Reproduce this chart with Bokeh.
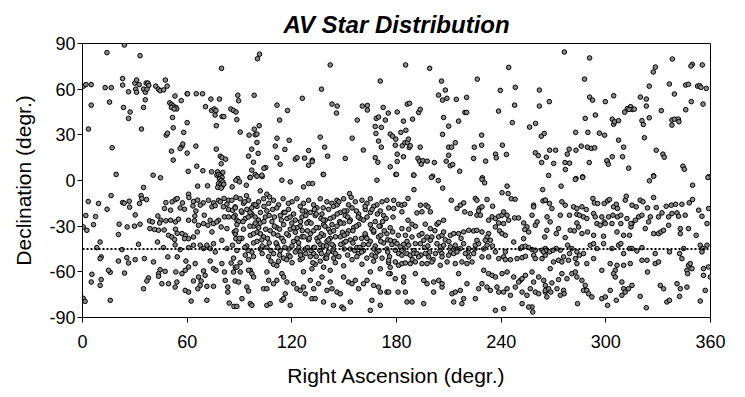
from bokeh.plotting import figure
from bokeh.models import Span, FixedTicker
from bokeh.embed import file_html
from bokeh.resources import INLINE

title_text = "AV Star Distribution"
x_label = "Right Ascension (degr.)"
y_label = "Declination (degr.)"
ra_ticks = [0, 60, 120, 180, 240, 300, 360]
dec_ticks = [-90, -60, -30, 0, 30, 60, 90]
mean_dec = -45

# (right ascension, declination) pairs
north_w = [(24,89),(14,84),(33,82),(0.5,62),(2,63),(5,63),(13,61),(16.5,61),(23,67),(23,62.7),(26.4,58.3),(30,64),(31,66),(32.5,63),(30.5,60),(31,58),(35,60),(36,58),(36.5,64),(37.5,64),(38,62.5),(37,60),(42,62),(43.5,60),(44.5,59),(46.5,59.5),(47.5,66),(48.5,62),(53,55.5),(56.6,52.5),(60,57),(50,51),(51,50),(52,49),(53.5,48),(54,47),(51,48),(52.5,47),(5,49.5),(15.5,51.5),(23.5,48),(27.3,45),(26.4,40.8),(36,53),(35,48),(51.6,41.4),(60,38),(3.4,33.8),(33.8,33.8),(48,29.8),(48.7,31),(52,34.6),(58,31.6),(57,22.5),(56,21),(57.5,24),(17,21.5),(51,19.3),(52,13.4),(60,18),(60.6,6),(19.3,4),(40.5,3.5),(44.7,1.8)]

north_b = [(101.5,83),(100.3,80),(79.7,73.7),(60.2,57),(65.2,57),(68.8,57),(73.6,53.5),(78.5,53.5),(89,56),(89.5,52.4),(98.4,56),(70.5,48.5),(74,46),(75.5,47),(76.5,46),(76,43),(80,42),(81,42),(85,47),(86.5,46),(88,45),(88.5,40),(111.5,49.5),(117.5,46),(113,39.7),(101.3,36),(76.7,36),(98.5,33.7),(99,30),(100,30.5),(95.5,29.8),(90.4,31.8),(100,25),(111.5,27.8),(110.5,22.6),(116,20.4),(118.5,26.4),(65,22.6),(76.7,20.6),(79,16),(80,15),(82,14),(79.5,11),(95.2,16),(97,20.6),(100.7,17.8),(98,12),(105,8.5),(104,8),(111.4,15),(113.3,10.7),(65.5,9.4),(69,6.4),(74,5.7),(77.4,5.7),(80.4,5.3),(79,3.5),(77,3.5),(97,6.8),(99,4),(103,2.6),(96,2),(89,1.3)]

north_c = [(142,75.9),(170.7,65.3),(137,60),(126,54),(143,50.2),(146,48.9),(145.6,44.3),(160.4,48.9),(163.3,49.3),(163.3,46.3),(157.5,39.7),(172.4,48),(175.3,44.3),(180.4,45),(173.6,39.7),(168.4,40.8),(169.7,41.7),(167.8,35.5),(171.3,34.9),(168.2,30.9),(169.7,25.9),(171.3,21.9),(176.4,30.5),(177.8,29.1),(179.6,27.2),(179.3,23.2),(180.4,17.3),(154.6,27.8),(136.3,28.5),(138.8,21.9),(140.5,16),(129.6,19.7),(161,20),(122,14),(123,15),(127.3,14.7),(131.7,13.4),(131.7,12.5),(129.6,10),(150.6,14.5),(167.8,15),(169.3,12),(176.4,9),(180.4,12.5),(138,4),(179.6,4)]

north_d = [(185.2,75.9),(199,73.7),(205.8,65.3),(226.3,66.6),(239.5,59.2),(208,59.4),(204.1,56.1),(206.4,52.8),(208.9,54),(214.3,53.3),(220.2,54.6),(186.2,50.2),(187.5,50.7),(192.7,44.7),(193.6,46.7),(219.2,44.7),(220.2,44.7),(238.5,45.6),(207,41.4),(215.6,39),(209.9,35.7),(184,39),(189.2,40.3),(185.4,33),(182.5,31.6),(206.4,30.3),(213.7,24.8),(228.8,29.8),(228.8,23.2),(224.6,21.9),(183.3,22.8),(184.8,24.8),(186.2,25),(186.8,27.2),(187.3,21.7),(187.9,22.8),(193.6,21.9),(209.9,21.9),(211.6,21.9),(209.9,16.6),(236.8,17.3),(237.2,14.9),(231.1,12.7),(240.7,23.2),(184,15.6),(192.3,14.5),(193.2,12.7),(195.1,13),(197.6,12.7),(201.7,11.8),(194.2,10.7),(208.5,12.7),(210.8,9.7),(212.2,10.5),(216.2,6.1),(224.2,14.5),(189.8,3.5),(200.7,2.8),(229.2,1.8)]

north_e = [(276.2,84.4),(290.7,80.5),(244.3,74.3),(287.8,66.6),(248.1,61.2),(261.9,59.4),(267.6,51.8),(261.9,48.9),(247.7,49.5),(290.7,54.8),(292.4,52.8),(299.7,51.8),(246.4,38),(256.3,35.1),(259.7,37.5),(263,29.1),(264.7,30.9),(288.2,40.8),(294,43),(282.7,31.6),(289.7,31.6),(296.3,31.1),(299.3,29.8),(243,17.1),(259.6,18.2),(261.3,16.4),(265.9,15.3),(267.8,19.9),(271.2,19.9),(263.2,11.8),(270.1,11.2),(276.6,11.8),(279.2,11.4),(276.8,7.2),(277.9,17.3),(279,20.6),(282.9,19.9),(285.9,22.6),(289.4,21.9),(291.7,21.1),(293.6,21.5),(290.5,11.8),(300.8,12.7),(267.2,3.3),(282.9,1.3),(286.7,2.4)]

north_f = [(338.1,79.8),(349.6,76.3),(348.8,75.2),(355.3,75.9),(328.4,74.5),(327.2,71.3),(324.9,62),(336.4,63.4),(339.3,56.8),(345.8,62.7),(347.3,63.2),(352.6,62),(353.8,62.3),(354.5,61.2),(357.6,60.5),(349,51.8),(355.7,50.2),(345.8,46.5),(304.5,55.7),(319.8,54.8),(323.2,53.5),(323.2,48.9),(310.8,44.9),(312.3,47.2),(314.2,48.5),(315.2,46.7),(316.3,46.9),(313.3,46.7),(331.8,45.9),(303.7,40.3),(304.5,37),(305,38.6),(307.3,39.3),(320.7,39.3),(321.5,36.8),(324.9,41.2),(337.9,39.7),(339.3,40.3),(341.6,40.3),(341.9,38.6),(337.9,36.4),(307.3,26.5),(310.2,21.9),(322.1,28.1),(328.9,19.9),(332.7,17.3),(333.5,15.3),(303.7,15.6),(309.6,15.6),(300.6,13),(301.4,10.7),(313.1,8.1),(344.2,9.4),(345,7.4),(327.4,3.1),(359,2.4)]

equator = [(78,4),(79,3),(80,2),(78.5,1),(79.5,0),(80.5,-1),(78,-2),(79,-3),(80,-4),(81,-2.5),(77.5,-4.5),(79.5,-5),(87.9,0.2),(85.8,-4.2),(66,-3.7),(71.7,-3.5),(35,-4.6),
(90,-0.9),(93.9,-3.1),(96.2,2),(100,2.8),(102.8,3.5),(114.3,0.2),(119.1,-0.9),(126.7,-4.2),(129.6,-2),(131.9,-2),(138.2,3.9),(153.1,-8.6),(168.8,0.2),(101.9,-6.8),(105.7,-9),(107.2,-10.8),
(180,4),(190,3.5),(200,2),(204,0),(206.5,-5),(190,-6),(229,0.7),(230.5,-1.5),(240.5,-8),(243.4,-3.7),(244,-8.6),(245.8,-12),(248,-12.3),(263.8,-6),(264,-13.4),(265.3,-13),(178.4,-13),(211.4,-13),
(282.5,0.7),(286.7,2),(325,-0.2),(327.4,2.8),(358.5,2),(274.4,-3.7),(349.7,-3.1)]

band_w = [(16.4,-9.9),(3.3,-13.8),(9.2,-15.1),(23,-14.5),(23.9,-14.9),(26.8,-13.6),(27,-17.5),(33.6,-9.9),(34,-11.9),(36.7,-12.5),(32.7,-15.1),
(14.1,-18.9),(30.2,-22.6),(21,-28.7),(20.6,-35.5),(25.6,-30.5),(29.8,-30),(33,-28.7),
(1.9,-23),(7.5,-23.7),(6.3,-29),(0.4,-30.5),(2.5,-32.7),
(38.4,-26.5),(40.1,-27.2),(43.2,-23.3),(44.9,-26.1),(44.2,-27.9),
(47.8,-14.5),(47,-18.4),(50.5,-19.5),(47.8,-26.5),(50.5,-26.1),(53.3,-27.2),(55,-25.4),
(38.6,-31.6),(41.3,-32.2),(43.6,-32.7),(46.8,-32.5),(49.3,-36),(51.2,-37.1),(54.3,-34.7),(53.3,-32),(52.8,-38.8),
(51.4,-14),(53.3,-12.5),(54.3,-11.9),(57.3,-14.7),(56,-18),(58.5,-18.9),(60.8,-9),(61,-11.2),(63.6,-13.8),(63.3,-16.7),
(66,-12.9),(65,-20),(69.2,-14.7),(69.8,-22.8),(67.5,-16.2),(64.4,-23.3),
(72.2,-13),(75.1,-14.7),(74.2,-17.3),(76.1,-16.5),(78,-13),(79,-14),(81.2,-11.8),(83.7,-13),(85.6,-13),(82.8,-15.6),(80.8,-17.3),(83.7,-19.1),(86,-19.5),(87.5,-17.3),(81.4,-23.9),(78,-26.1),(83.7,-23.9),(87.5,-22.8),(88.5,-26.1),
(60.8,-26.1),(64.2,-26.5),(66.5,-29.4),(69.4,-28.3),(71.9,-29.4),(73.2,-26.1),(75.1,-28.3),(77,-27.2),(79.5,-30.5),(82.8,-31.6),(87,-33.8),(87.9,-38.2),(74.2,-33.8),(65.8,-33.8),(58.9,-36),(60.8,-38.2),(63.6,-37.1),(57,-34.9),
(8.2,-44.1),(10.1,-40.4),(32.1,-41.9),(43,-40.4),(46.4,-44.1),(53.1,-42.3),(56,-45.4),(58.5,-38.2),(60.8,-44.1),(63.6,-42.5),(67.5,-42.5),(69.4,-44.7),(71.3,-42.5),(73.2,-44.7),(75.1,-41.5),(76.1,-46.9),(79.9,-39.3),(82.8,-44.7),(86,-42.5)]

south_w = [(10.7,-50.2),(10.1,-51.3),(22.6,-45.4),(25.4,-50.7),(20.6,-52.9),(26.4,-54.2),(30.2,-52),(35.5,-51.3),(40.7,-53.5),(44.5,-58.6),(47.4,-59.7),(43.6,-61.2),(37.8,-64),(36.9,-66),(35,-71.1),(24.1,-60.8),(15.9,-60.3),(14.9,-59),(5.4,-61.6),(5,-66.7),(10.7,-65.1),(10.1,-68.9),(15.9,-78.7),(0.4,-77.4),(1.5,-79.4),(48.9,-50.2),(54.3,-50.2),(59.3,-52.9),(60.8,-56.8),(64.6,-54.6),(58.9,-59),(53.5,-60.1),(54.1,-66.7),(57,-61.2),(53.1,-70),(49.3,-67.8),(43.6,-62.9),(45.5,-67.8),(63.6,-66),(66.5,-63.4),(68,-66),(67.5,-68.9),(69.4,-59.4),(70.3,-62.3),(73.2,-52.9),(75.1,-57.9),(76.5,-59),(79.9,-54.6),(81.4,-60.1),(85.2,-54.2),(86.6,-60.1),(81.8,-65.6),(87.5,-66),(83.3,-70),(83.3,-73.3),(75.1,-69.5),(71.3,-69.5),(66.1,-71.1),(60.8,-73.3),(58.9,-72.2),(62.3,-79.2),(71.3,-78.7),(84.1,-80.5),(86.8,-82.7)]

band_b = [(90.4,-12),(92.3,-15),(95.2,-13),(98.1,-16),(100.9,-14),(103.8,-12),(106.7,-15),(109.5,-13),(112.4,-16),(120.1,-14),(122.9,-12),(126.7,-15),(129.6,-13),(132.5,-16),(136.3,-12),(140.1,-14),(143,-15),(145.9,-13),(149.7,-12),(152.5,-16),(156.4,-14),(160.2,-13),(163.1,-15),(165,-12),(168.8,-16),(171.7,-14),(174.5,-13),
(87.6,-18),(91.4,-21),(94.2,-19),(97.1,-22),(100,-17),(105.7,-20),(111.4,-18),(115.3,-21),(118.1,-19),(121,-22),(124.8,-17),(127.7,-20),(130.6,-21),(134.4,-18),(137.3,-22),(141.1,-19),(143.9,-17),(147.8,-21),(151.6,-20),(154.5,-18),(158.3,-22),(162.1,-19),(165,-21),(166.9,-17),(170.7,-20),(175.5,-18),
(86.6,-24),(89.5,-27),(93.3,-25),(96.2,-23),(100.9,-26),(104.8,-24),(108.6,-27),(113.4,-23),(117.2,-25),(122,-26),(125.8,-24),(129.6,-27),(133.4,-23),(136.7,-25),(139.2,-26),(143.9,-24),(147.4,-27),(150.6,-23),(153.5,-26),(159.2,-25),(163.1,-24),(167.8,-27),(172.6,-23),
(88.5,-29),(92.3,-32),(98.1,-30),(101.9,-28),(107.6,-33),(111.4,-31),(115.3,-29),(119.1,-32),(124.8,-30),(128.6,-28),(132.5,-33),(135.3,-31),(138.2,-29),(141.1,-32),(145.9,-30),(149.7,-28),(152.5,-33),(155.4,-31),(158.3,-29),(165.9,-32),(170.7,-30),(176.4,-31),
(87.6,-35),(91.4,-38),(96.2,-36),(100,-34),(103.8,-37),(109.5,-35),(114.3,-38),(118.1,-36),(122,-34),(125.8,-37),(130.6,-35),(134.4,-38),(138.2,-36),(142,-34),(147.8,-37),(151.6,-35),(156.4,-38),(162.1,-36),(166.9,-34),(169.7,-37),(174.5,-35),
(89.5,-40),(94.2,-43),(98.1,-41),(102.8,-39),(105.7,-44),(111.4,-42),(115.3,-40),(120.1,-43),(123.9,-41),(129.6,-39),(132.5,-44),(136.3,-42),(140.1,-40),(143.9,-43),(149.7,-41),(153.5,-39),(157.3,-44),(161.1,-42),(165,-40),(167.8,-43),(172.6,-41),(177.4,-42),
(88.5,-46),(93.3,-49),(97.1,-47),(101.9,-45),(109.5,-48),(113.4,-46),(118.1,-49),(124.8,-47),(127.7,-45),(132.5,-48),(136.3,-46),(140.1,-49),(143.9,-47),(153.5,-45),(158.3,-48),(161.1,-46),(165.9,-49),(168.8,-47),(174.5,-45),
(86.6,-51),(90.4,-54),(95.2,-52),(106.7,-50),(109.5,-55),(112.4,-53),(115.3,-51),(120.1,-54),(124.8,-52),(130.6,-50),(133.4,-55),(136.3,-53),(139.2,-51),(144.9,-54),(154.5,-52),(157.3,-50),(160.2,-55),(166.9,-53),(171.7,-51),(175.5,-54),
(87.6,-57),(96.2,-59),(111.4,-56),(126.7,-60),(131.5,-58),(138.2,-57),(142,-59),(149.7,-56),(165,-60),(170.7,-58),(176.4,-57)]

band_b2 = [(88,-11),(94,-10),(97,-18),(99,-24),(102,-21),(104,-27),(107,-23),(110,-30),(112,-36),(114,-26),(116,-21),(118,-45),(121,-40),(123,-31),(125,-27),(127,-37),(129,-33),(131,-28),(133,-44),(135,-40),(137,-35),(139,-30),(141,-47),(142,-38),(144,-33),(146,-22),(148,-28),(150,-45),(88,-33),(90,-38),(92,-27),(93,-44),(96,-30),(98,-35),(100,-40),(103,-43),(105,-32),(106,-38),(108,-46),(111,-41),(113,-49),(117,-35),(119,-50),(122,-47),(124,-44),(126,-51),(128,-48),(130,-38),(132,-54),(134,-31),(136,-46),(138,-43),(140,-51),(143,-42),(145,-37),(147,-50),(149,-34),(151,-40),(153,-27),(155,-33),(157,-20),(159,-44),(161,-26),(163,-38),(165,-29),(167,-45),(169,-22),(171,-40),(173,-33),(175,-47),(91,-20),(95,-24),(99,-16),(101,-31),(109,-19),(115,-12),(119,-24),(126,-20),(134,-22),(138,-18),(142,-25),(146,-16),(150,-20),(154,-11),(158,-24),(162,-35),(166,-19),(170,-30),(174,-25)]

band_b3 = [(93,-14),(96,-21),(99,-28),(102,-35),(104,-17),(107,-41),(110,-24),(113,-32),(116,-44),(118,-15),(120,-28),(123,-38),(126,-33),(128,-23),(131,-46),(133,-19),(136,-37),(138,-26),(140,-43),(143,-29),(145,-48),(147,-14),(150,-36),(152,-24),(155,-41),(157,-30),(160,-47),(162,-17),(164,-42),(167,-33),(170,-46),(172,-27),(175,-39),(178,-24),(181,-36),(184,-45),(187,-32),(190,-46),(193,-36),(196,-44),(199,-47),(202,-33),(205,-46),(208,-39),(211,-47),(95,-46),(98,-50),(103,-48),(108,-53),(112,-44),(117,-52),(121,-31),(125,-49),(129,-44),(134,-50),(137,-48),(141,-39),(144,-51),(148,-42),(152,-49),(156,-46),(160,-38),(163,-51),(168,-50),(171,-36),(176,-50),(179,-40),(183,-46),(186,-40),(189,-52),(194,-49),(198,-43),(201,-52),(206,-48),(210,-40),(214,-45),(217,-38),(221,-47),(225,-45),(230,-45),(235,-43)]

south_b = [(88.5,-56.8),(90.4,-60.1),(95.2,-59),(97.1,-61.2),(98.1,-63.4),(105.7,-60.1),(114.3,-61.2),(115.3,-63.4),(89.5,-66.7),(94.2,-70),(95.2,-72.6),(103.8,-71.1),(105.7,-71.1),(106.7,-65.6),(109.5,-67.8),(111.4,-65.6),(117.2,-66.7),(116.2,-74.4),(121,-67.8),(122.9,-71.1),(124.8,-72.2),(126.7,-70),(127.7,-74.4),(130.6,-65.6),(132.5,-71.1),(135.3,-67.8),(137.3,-63.4),(140.1,-72.2),(142,-66.7),(143,-71.1),(145.9,-73.3),(147.8,-74.4),(149.7,-63.4),(152.5,-66.7),(154.5,-67.8),(156.4,-65.6),(158.3,-71.1),(161.1,-67.8),(163.1,-65.6),(166.9,-68.9),(169.7,-70),(170.7,-73.3),(174.5,-73.3),(176.4,-61.2),(91.4,-77.6),(96.2,-80.9),(97.1,-82),(105.7,-82),(107.6,-80.9),(114.3,-78.7),(115.3,-77.6),(119.1,-82),(131.5,-77.6),(133.4,-77.6),(138.2,-79.8),(143.9,-82),(148.7,-83.1),(149.7,-84.2),(153.5,-79.8),(165,-85.3),(165.9,-78.7),(170.7,-82),(88.5,-82.7)]

band_c = [(181.2,-15.6),(183.1,-16.2),(184.7,-15.6),(186.6,-11.8),(193.7,-16.2),(196.9,-16.2),(198.1,-17.3),(194.6,-20.6),(191.7,-21.3),(199.4,-20.6),(183.1,-20.6),(178.4,-18.4),(214.7,-18.4),(216.6,-16.2),(218.5,-14.7),(219.1,-20.6),(225.2,-11.8),(226.1,-12.9),(227.5,-18.4),(229,-17.3),(231.9,-12.5),(235.1,-16.9),(227.1,-20),(222.3,-21.7),(226.1,-22.8),(228.1,-22.8),(232.8,-26.1),(234.8,-23.9),(236.7,-25),(238.6,-23.5),(240.5,-22.8),(241.4,-20.6),(243.4,-22.8),(244.3,-26.1),(241.4,-28.3),(238.6,-27.9),(236.7,-30.5),(239.1,-33.1),(240.5,-34.9),(247.7,-24.6),(250,-24.6),(252.9,-27.9),(254.8,-30.5),(253.5,-32.2),(255.8,-33.8),(259.6,-29.4),(260.6,-27.2),(257.7,-22.8),(258.6,-16.2),(258.6,-17.3),(265,-37.1),(266.3,-23.9),
(186.6,-26.1),(188.9,-28.7),(190.8,-30.1),(196.5,-28.7),(199.4,-31.6),(203.2,-28.7),(204.2,-27.6),(207,-26.1),(183.1,-31.6),(177.8,-33.8),(185.1,-36),(188.9,-37.1),(194.6,-34.9),(197.5,-37.1),(200.3,-37.1),(204.2,-37.1),(206.1,-36),(207,-33.8),(210.9,-36),(212.8,-34.9),(215.6,-34.9),(218.5,-33.8),(221.4,-32.7),(224.2,-33.1),(226.1,-32.7),(229,-33.8),(232.8,-34.9),(231.9,-37.1),(230.9,-39.3),(233.8,-39.3),(242.4,-36),(247.2,-40.4),(252.9,-38.2),(176.5,-39.3),(180.3,-41.5),(182.2,-43.6),(184.1,-41.9),(187,-42.5),(190.8,-41.5),(193.7,-41.5),(195.6,-39.3),(199.4,-39.3),(203.2,-41.5),(205.1,-43.6),(207,-42.5),(210.9,-43.6),(213.7,-42.5),(216.6,-44.7),(218.5,-41.5),(221.4,-44.7),(225.2,-42.5),(227.1,-41.5),(226.1,-39.3),(231.9,-42.5),(236.7,-46.9),(242.4,-46.9),(251,-44.7),(252,-43.6),(253.9,-43.2),(255.8,-44.1),(257.7,-45.4),(259.6,-45.8),(263.4,-45.8),(265.3,-44.7),
(179.3,-45.8),(181.2,-48),(183.1,-49.1),(186,-48),(187.9,-49.1),(189.8,-48),(191.7,-48),(192.7,-50.2),(196.5,-48),(198.4,-50.2),(202.3,-48),(206.1,-50.2),(209.9,-49.1),(212.8,-48),(214.7,-46.9),(219.5,-48),(221.4,-50.2),(224.2,-48),(229,-50.2),(232.8,-50.2),(238.6,-51.3),(241.4,-50.2),(242.4,-52),(245.3,-52),(249.1,-51.3),(252,-50.7),(253.9,-49.8),(258.6,-49.1),(259.6,-51.3),(263.4,-51.3),(265.3,-49.1)]

south_c = [(175.5,-52.4),(179.3,-53.5),(181.2,-55.7),(183.1,-54.6),(185.1,-54.2),(187.9,-54.6),(190.8,-53.5),(194.6,-54.6),(197.5,-54.6),(200.3,-53.5),(205.1,-55.7),(209,-53.5),(213.7,-54.6),(217.5,-53.5),(220.4,-54.6),(223.3,-53.5),(230,-59),(232.8,-61.2),(234.8,-62.3),(236.7,-63.4),(240.5,-61.2),(243.4,-60.1),(247.2,-63.4),(251,-65.6),(252,-64.5),(253.9,-62.3),(257.7,-60.1),(258.6,-66.7),(261.5,-63.4),(264.4,-65.6),(265.3,-68.9),
(175.5,-61.2),(179.3,-64.5),(184.1,-63.4),(184.1,-66.7),(190.8,-61.2),(195.6,-65.6),(197.5,-67.8),(201.3,-66.7),(204.2,-65.6),(206.1,-70),(211.8,-74.4),(213.7,-73.3),(215.6,-61.2),(216.6,-72.2),(218.5,-77.6),(220.4,-67.8),(225.2,-77.6),(227.1,-71.1),(229,-67.8),(231.9,-70),(233.8,-72.2),(237.6,-70),(238.6,-73.3),(241.4,-73.3),(243.4,-71.1),(245.3,-75.4),(248.1,-70),(250,-66.7),(252,-73.3),(254.8,-75.4),(256.7,-71.1),(257.7,-83.1),(259.6,-73.3),(261.5,-74.4),(265.3,-73.3),(180.9,-73.3),(185.1,-73.3),(186,-79.8),(188.9,-79.8),(195.6,-80.9),(201.3,-73.3),(206.1,-67.8),(212.8,-79.8),(217.5,-80.9),(236.7,-85.3),(241.4,-84.2),(252,-80.9),(255.8,-83.1),(258.1,-86.4),(175.5,-73.3)]

band_e = [(265.3,-12.9),(267.7,-15.1),(269.1,-18.4),(274.8,-14),(276.7,-16.2),(281.5,-17.3),(283.4,-18.4),(286.3,-17.3),(288.8,-19.1),(292.6,-11.8),(293.4,-14.7),(295.3,-15.1),(299.1,-15.1),(301,-13.4),(302.1,-12.5),(304.4,-17.3),(306,-15.6),(306.7,-18.4),(311.1,-12.9),(311.7,-10.3),(315,-16.2),(317.4,-17.3),(319.7,-12.9),(321.3,-14),(323.9,-18),(327.4,-11.2),(328.9,-17.8),(334.6,-16.9),(337.5,-16.2),(340,-15.6),(343.6,-15.6),(347.8,-14.7),(349.7,-12.5),(353.2,-19.5),(358.9,-18.4),
(273.9,-22.8),(279.2,-22.8),(283.4,-22.2),(284.9,-22.8),(287.2,-23.9),(289.1,-25),(293,-21.7),(293.9,-23.9),(297.7,-23.9),(301.6,-23.9),(304.1,-22.8),(306.7,-23.9),(308.6,-22.8),(312.1,-25),(315,-28.3),(318.8,-23.9),(320.7,-22.8),(325.5,-23.9),(330.2,-23.9),(332.2,-21.3),(336,-23.9),(337.9,-21.7),(340.8,-21.3),(341.7,-23.5),(345.5,-22.8),(355.1,-23.5),(358,-28.3),
(266.2,-32.7),(268.1,-27.2),(272.9,-31.6),(271.6,-34.9),(276.7,-37.5),(279.6,-32.7),(281.9,-33.1),(283.4,-27.9),(284.4,-30.5),(286.3,-34.9),(289.5,-33.8),(293,-36),(294.9,-28.3),(296.8,-29.4),(299.1,-27.2),(299.7,-28.3),(298.7,-36.6),(303.5,-28.3),(306.4,-33.8),(308.6,-28.3),(310.2,-36),(313.6,-36),(314.4,-30.5),(314.4,-28.3),(316.9,-26.1),(322.6,-31.6),(324.5,-27.2),(327.4,-34.9),(330.2,-34.9),(331.6,-33.8),(333.1,-32.7),(336,-29.4),(342.7,-31.6),(342.7,-34.9),(347.4,-31.6),(351.8,-36),(354.1,-42.5),(358,-42.5),
(264.3,-46.9),(266.2,-45.8),(267.7,-46.9),(269.7,-45.8),(271.6,-44.7),(273.9,-45.8),(275.8,-50.2),(278.1,-42.5),(279.2,-48),(280.5,-44.7),(283.4,-46.9),(284.9,-49.1),(287.2,-48),(291.1,-42.5),(293,-41.5),(294.9,-44.7),(298.7,-41.5),(303.5,-44.7),(307.3,-42.5),(308.6,-41.5),(310.2,-48),(313.6,-44.7),(315,-44.7),(317.8,-46.3),(320.7,-44.1),(328.3,-48),(336.5,-46.9),(342.3,-48),(343.6,-51.3),(344.6,-44.7),(347.4,-55.7),(348.4,-54.6),(355.7,-44.7),(355.1,-46.9)]

south_e = [(268.1,-57.9),(270,-53.5),(272.9,-52.4),(274.8,-53.5),(278.6,-52.4),(282.5,-51.3),(283.4,-54.6),(289.1,-54.6),(293,-51.3),(297.7,-59),(302.5,-54.6),(305.4,-59),(306.4,-55.7),(310.2,-55.7),(314,-54.6),(320.7,-52.4),(323.6,-52.4),(323.9,-60.1),(328.3,-54.6),(330.2,-53.5),(346.5,-59),(346.9,-61.2),(349.4,-57.9),(356,-57.9),(356,-62.3),(358.9,-56.8),
(265.3,-72.2),(266.2,-76.5),(267.2,-71.1),(269.1,-67.3),(268.5,-73.3),(272,-71.1),(272.9,-65.1),(273.9,-75.4),(275.8,-72.2),(276.1,-74.4),(277.7,-64.5),(280.5,-61.2),(282.5,-60.1),(283.4,-63.4),(286.3,-65.6),(287.2,-72.2),(288.2,-68.9),(289.1,-72.2),(290.1,-74.4),(292,-76.5),(297.7,-77.6),(299.7,-76.5),(301,-82),(302.5,-72.2),(304.4,-61.2),(305.4,-63.4),(309.2,-66.7),(310.2,-71.1),(311.1,-73.3),(313,-71.1),(315,-68.9),(306,-78.7),(309.2,-75.4),(319.7,-76.1),(323.2,-83.6),(331.2,-68.9),(333.1,-71.1),(335,-79.8),(336.5,-78.7),(340.8,-67.8),(342.7,-71.1),(346.5,-70),(342.3,-76.1),(354.1,-79.2),(357,-72.2),(359.9,-63.4),(283.8,-80.9),(274.8,-61.2)]

stars = (north_w + north_b + north_c + north_d + north_e + north_f + equator +
         band_w + south_w + band_b + band_b2 + band_b3 + south_b + band_c + south_c +
         band_e + south_e)
ra = [s[0] for s in stars]
dec = [s[1] for s in stars]

FONT = "Liberation Sans"

p = figure(frame_width=628, frame_height=274, x_range=(0, 360), y_range=(-90, 90),
           output_backend="svg", toolbar_location=None,
           min_border_left=82, min_border_right=27, min_border_top=43, min_border_bottom=72)

p.title.text = title_text
p.title.align = "center"
p.title.text_font = FONT
p.title.text_font_style = "bold italic"
p.title.text_font_size = "24px"
p.title.text_color = "black"
p.title.standoff = 12

p.background_fill_color = "white"
p.border_fill_color = "white"
p.outline_line_color = "black"
p.outline_line_width = 1
p.outline_line_alpha = 1
p.xgrid.visible = False
p.ygrid.visible = False

for ax, ticks in ((p.xaxis[0], ra_ticks), (p.yaxis[0], dec_ticks)):
    ax.ticker = FixedTicker(ticks=ticks, minor_ticks=[])
    ax.major_label_overrides = {t: str(t) for t in ticks}
    ax.axis_line_color = "black"
    ax.major_tick_line_color = "black"
    ax.major_tick_out = 5
    ax.major_tick_in = 0
    ax.minor_tick_line_color = None
    ax.major_label_text_font = FONT
    ax.major_label_text_font_size = "18px"
    ax.major_label_text_color = "black"
    ax.axis_label_text_font = FONT
    ax.axis_label_text_font_size = "21px"
    ax.axis_label_text_font_style = "normal"
    ax.axis_label_text_color = "black"

p.xaxis.axis_label = x_label
p.yaxis.axis_label = y_label
p.xaxis.major_label_standoff = 12
p.xaxis.axis_label_standoff = 13
p.yaxis.major_label_standoff = 2
p.yaxis.axis_label_standoff = 11

p.scatter(ra, dec, size=4.6, marker="circle", fill_color="#8a8a8a",
          line_color="black", line_width=1)

p.add_layout(Span(location=mean_dec, dimension="width", line_color="black",
                  line_dash="2 2", line_width=2))

open("out.html", "w").write(file_html(p, INLINE))
